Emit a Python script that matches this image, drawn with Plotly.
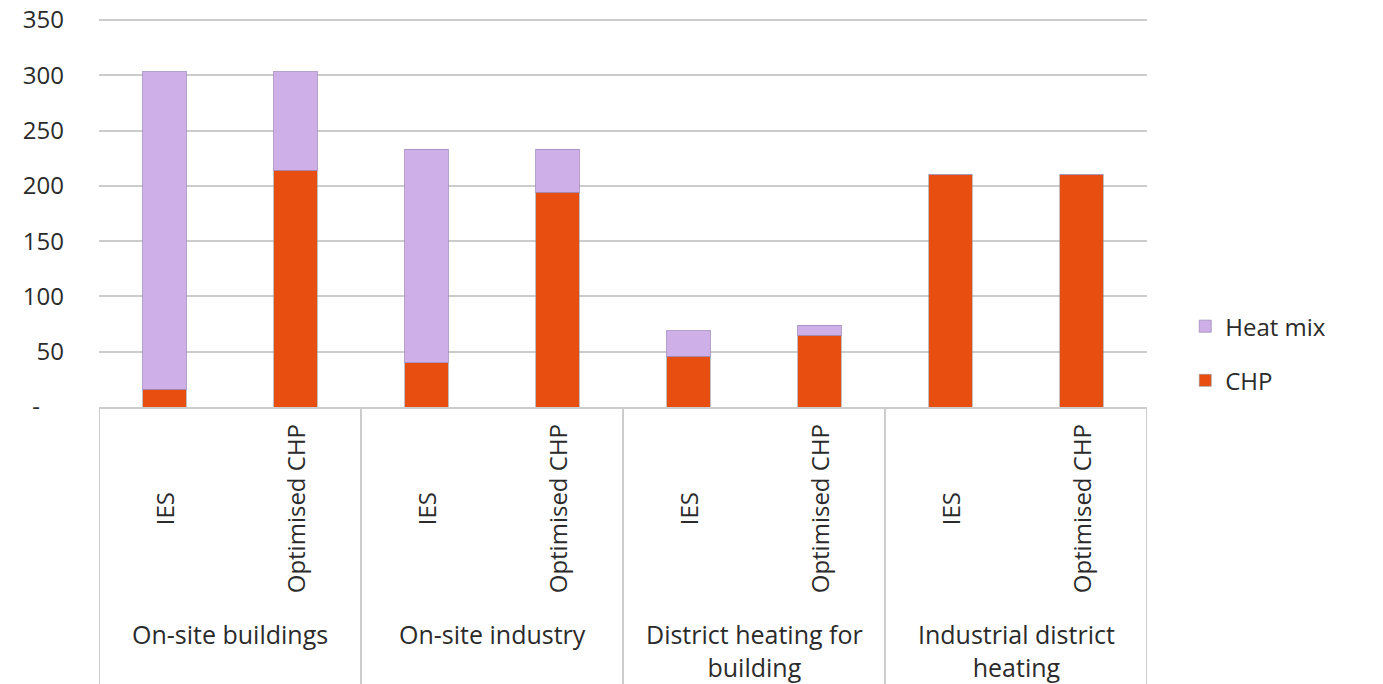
import plotly.graph_objects as go

groups = ["On-site buildings", "On-site industry", "District heating for<br>building", "Industrial district<br>heating"]
scenarios = ["IES", "Optimised CHP"]
chp = [16, 214, 40, 194, 46, 65, 210, 210]
heat_mix = [287, 89, 193, 39, 23, 9, 0, 0]
y_ticks = [0, 50, 100, 150, 200, 250, 300, 350]
y_ticktext = ["-\u2002\u2002", "50", "100", "150", "200", "250", "300", "350"]

cats = [f"{g}|{s}" for g in groups for s in scenarios]

FONT = "Open Sans"
TXT = "#2b2b2b"
GRID = "#cccccc"

fig = go.Figure()
fig.add_trace(go.Bar(x=cats, y=chp, name="CHP", legendgroup="a", legendrank=2,
                     marker=dict(color="#E84E10", line=dict(color="rgba(150,150,150,0.6)", width=1))))
fig.add_trace(go.Bar(x=cats, y=heat_mix, name="Heat mix", legendgroup="b", legendrank=1,
                     marker=dict(color="#CFAFE7", line=dict(color="rgba(160,140,190,0.8)", width=1))))

# inner (scenario) labels, rotated
for i, c in enumerate(cats):
    fig.add_annotation(x=i, xref="x", y=-0.261, yref="paper", text=scenarios[i % 2],
                       textangle=-90, showarrow=False, xanchor="center", yanchor="middle",
                       font=dict(family=FONT, size=24, color=TXT))

# group labels
for g, name in enumerate(groups):
    fig.add_annotation(x=2 * g + 0.5, xref="x", y=-0.533, yref="paper", text=name,
                       showarrow=False, xanchor="center", yanchor="top",
                       font=dict(family=FONT, size=25, color=TXT))

# group dividers
for g in range(len(groups) + 1):
    fig.add_shape(type="line", xref="x", yref="paper", x0=2 * g - 0.5, x1=2 * g - 0.5,
                  y0=0, y1=-0.75, line=dict(color=GRID, width=2))

fig.update_layout(
    barmode="stack",
    bargap=0.67,
    width=1383, height=684,
    margin=dict(l=99, r=236, t=17, b=277, autoexpand=False),
    paper_bgcolor="white", plot_bgcolor="white",
    font=dict(family=FONT, size=24, color=TXT),
    legend=dict(x=1.0365, y=0.137, xanchor="left", yanchor="middle",
                traceorder="grouped", tracegroupgap=20,
                font=dict(family=FONT, size=24, color=TXT)),
    xaxis=dict(showticklabels=False, showgrid=False, showline=True, linecolor=GRID,
               linewidth=2, ticks="", range=[-0.5, 7.5], automargin=False),
    yaxis=dict(range=[0, 352.7], tickvals=y_ticks, ticktext=y_ticktext,
               showgrid=True, gridcolor=GRID, gridwidth=2, zeroline=False, automargin=False,
               ticks="", ticklabelstandoff=34, tickfont=dict(family=FONT, size=24, color=TXT)),
)

fig.write_html("out.html")
